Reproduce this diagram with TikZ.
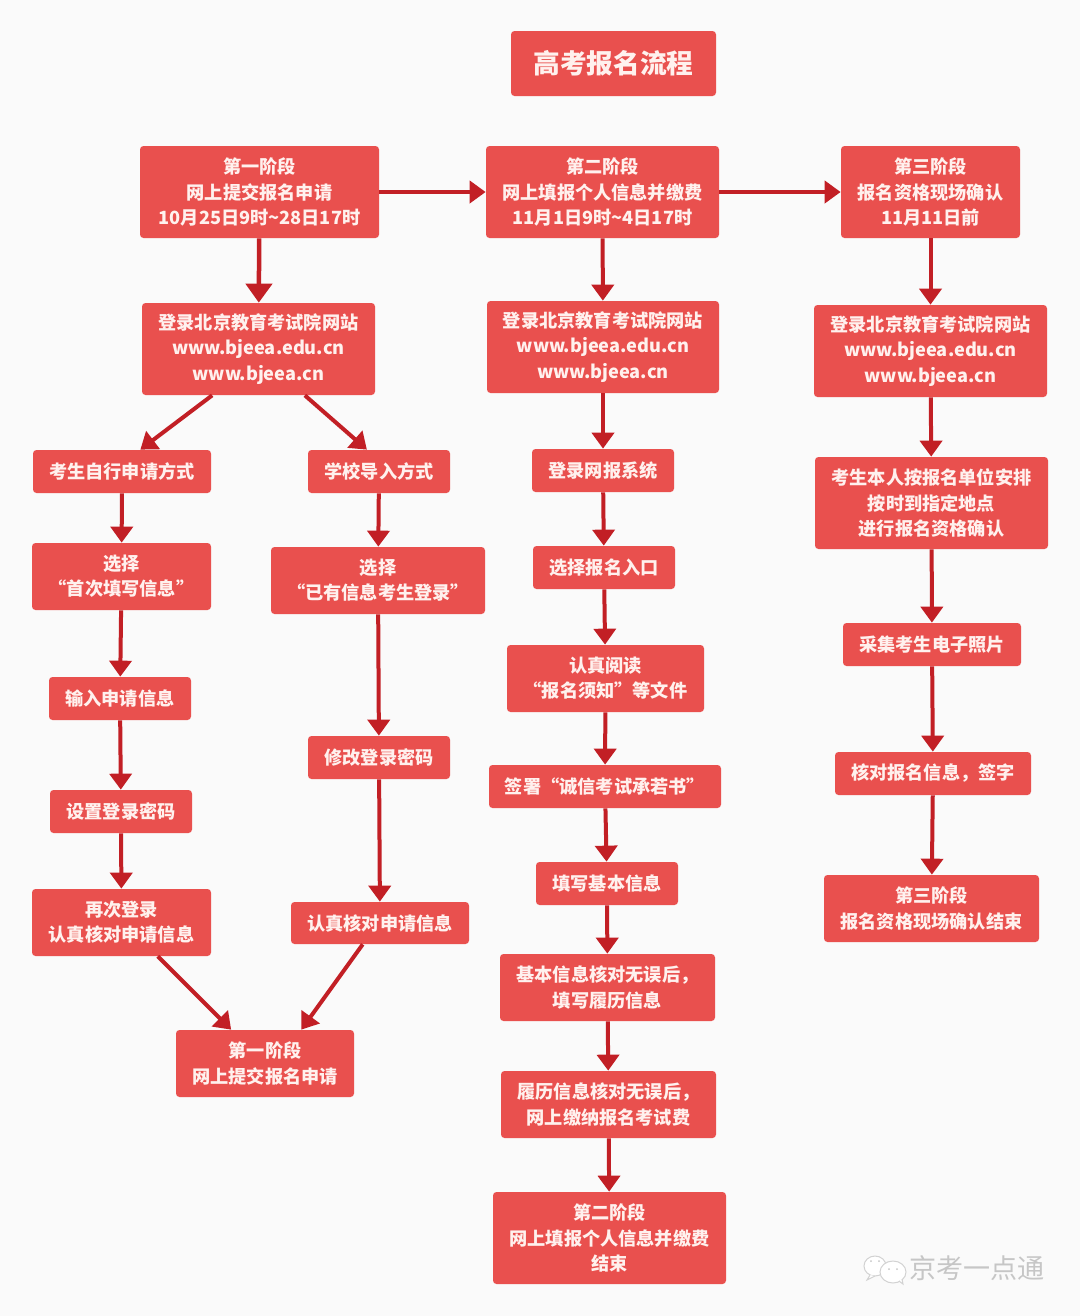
\documentclass[tikz,border=0pt]{standalone}
\usepackage{xcolor}
\usepackage{fontspec}
\setmainfont{Noto Sans CJK SC}
\usepackage{tikz}
\usetikzlibrary{arrows.meta}
\definecolor{pagebg}{HTML}{FAFAFA}
\definecolor{boxred}{HTML}{E9504E}
\definecolor{linered}{HTML}{C21F25}
\definecolor{boxtext}{HTML}{FFF1EE}
\tikzset{
    wh/.style 2 args={minimum width=#1*0.02cm, minimum height=#2*0.02cm},
    box/.style={fill=boxred, text=boxtext, rounded corners=0.07cm, inner sep=0pt, align=center,
        font=\fontsize{10.35}{14.3}\selectfont\bfseries},
    flow/.style={draw=linered, line width=0.08cm, -{Triangle[length=0.32cm,width=0.44cm]}},
    bigflow/.style={draw=linered, line width=0.09cm, -{Triangle[length=0.38cm,width=0.52cm]}},
    bubble/.style={draw=gray!35, fill=white, line width=0.02cm}
}
\begin{document}
\begin{tikzpicture}[x=0.02cm,y=-0.02cm]
    \fill [pagebg] (0,0) rectangle (1080,1316);
    \useasboundingbox (0,0) rectangle (1080,1316);
    % Title
    \node [box, wh={205}{65}, font=\fontsize{15.2}{18}\selectfont\bfseries] (title) at (613.5,63.5) {高考报名流程};
    % Stages
    \node [box, wh={239}{92}] (stageA) at (259.5,192) {第一阶段\\网上提交报名申请\\10月25日9时\textasciitilde 28日17时};
    \node [box, wh={233}{92}] (stageB) at (602.5,192) {第二阶段\\网上填报个人信息并缴费\\11月1日9时\textasciitilde 4日17时};
    \node [box, wh={179}{92}] (stageC) at (930.5,192) {第三阶段\\报名资格现场确认\\11月11日前};
    % Left column
    \node [box, wh={233}{92}] (loginA) at (258.5,349) {登录北京教育考试院网站\\www.bjeea.edu.cn\\www.bjeea.cn};
    \node [box, wh={178}{43}] (selfA) at (122,471.5) {考生自行申请方式};
    \node [box, wh={179}{67}] (selfB) at (121.5,576.5) {选择\\“首次填写信息”};
    \node [box, wh={142}{43}] (selfC) at (120,698.5) {输入申请信息};
    \node [box, wh={142}{43}] (selfD) at (121,811.5) {设置登录密码};
    \node [box, wh={179}{67}] (selfE) at (121.5,922.5) {再次登录\\认真核对申请信息};
    \node [box, wh={142}{43}] (schoolA) at (379,471.5) {学校导入方式};
    \node [box, wh={214}{67}] (schoolB) at (378,580.5) {选择\\“已有信息考生登录”};
    \node [box, wh={142}{43}] (schoolC) at (379,757.5) {修改登录密码};
    \node [box, wh={178}{42}] (schoolD) at (380,923) {认真核对申请信息};
    \node [box, wh={178}{67}] (endA) at (265,1063.5) {第一阶段\\网上提交报名申请};
    % Middle column
    \node [box, wh={232}{92}] (loginB) at (603,347) {登录北京教育考试院网站\\www.bjeea.edu.cn\\www.bjeea.cn};
    \node [box, wh={142}{43}] (midA) at (603,470.5) {登录网报系统};
    \node [box, wh={142}{43}] (midB) at (604,567.5) {选择报名入口};
    \node [box, wh={197}{67}] (midC) at (605.5,678.5) {认真阅读\\“报名须知”等文件};
    \node [box, wh={232}{43}] (midD) at (605,786.5) {签署“诚信考试承若书”};
    \node [box, wh={142}{43}] (midE) at (607,883.5) {填写基本信息};
    \node [box, wh={215}{67}] (midF) at (607.5,987.5) {基本信息核对无误后，\\填写履历信息};
    \node [box, wh={215}{67}] (midG) at (608.5,1104.5) {履历信息核对无误后，\\网上缴纳报名考试费};
    \node [box, wh={233}{92}] (endB) at (609.5,1238) {第二阶段\\网上填报个人信息并缴费\\结束};
    % Right column
    \node [box, wh={233}{92}] (loginC) at (930.5,351) {登录北京教育考试院网站\\www.bjeea.edu.cn\\www.bjeea.cn};
    \node [box, wh={233}{92}] (rightA) at (931.5,503) {考生本人按报名单位安排\\按时到指定地点\\进行报名资格确认};
    \node [box, wh={178}{43}] (rightB) at (932,644.5) {采集考生电子照片};
    \node [box, wh={196}{43}] (rightC) at (933,773.5) {核对报名信息，签字};
    \node [box, wh={215}{67}] (endC) at (931.5,908.5) {第三阶段\\报名资格现场确认结束};
    % Stage arrows
    \draw [flow] (stageA) -- (stageB);
    \draw [flow] (stageB) -- (stageC);
    \draw [bigflow] (stageA) -- (loginA);
    \draw [flow] (stageB) -- (loginB);
    \draw [flow] (stageC) -- (loginC);
    % Left arrows
    \draw [flow] (loginA.225) -- (selfA.50);
    \draw [flow] (loginA.315) -- (schoolA.119);
    \draw [flow] (selfA) -- (selfB);
    \draw [flow] (selfB) -- (selfC);
    \draw [flow] (selfC) -- (selfD);
    \draw [flow] (selfD) -- (selfE);
    \draw [flow] (schoolA) -- (schoolB);
    \draw [flow] (schoolB) -- (schoolC);
    \draw [flow] (schoolC) -- (schoolD);
    \draw [flow] (selfE.317) -- (endA.135);
    \draw [flow] (schoolD.231) -- (endA.43);
    % Middle arrows
    \draw [flow] (loginB) -- (midA);
    \draw [flow] (midA) -- (midB);
    \draw [flow] (midB) -- (midC);
    \draw [flow] (midC) -- (midD);
    \draw [flow] (midD) -- (midE);
    \draw [flow] (midE) -- (midF);
    \draw [flow] (midF) -- (midG);
    \draw [flow] (midG) -- (endB);
    % Right arrows
    \draw [flow] (loginC) -- (rightA);
    \draw [flow] (rightA) -- (rightB);
    \draw [flow] (rightB) -- (rightC);
    \draw [flow] (rightC) -- (endC);
    % Watermark
    \draw [bubble] (875,1266) ellipse (11 and 10);
    \draw [bubble] (870,1275) -- (867,1280) -- (875,1276);
    \draw [bubble] (893,1272) ellipse (13 and 11);
    \draw [bubble] (899,1281) -- (903,1284) -- (902,1279);
    \fill [gray!45] (871,1261) circle (1) (879,1261) circle (1) (889,1269) circle (1) (897,1269) circle (1);
    \node [text=gray!45, font=\fontsize{15.4}{18}\selectfont, inner sep=0pt] (mark) at (977,1268) {京考一点通};
\end{tikzpicture}
\end{document}
